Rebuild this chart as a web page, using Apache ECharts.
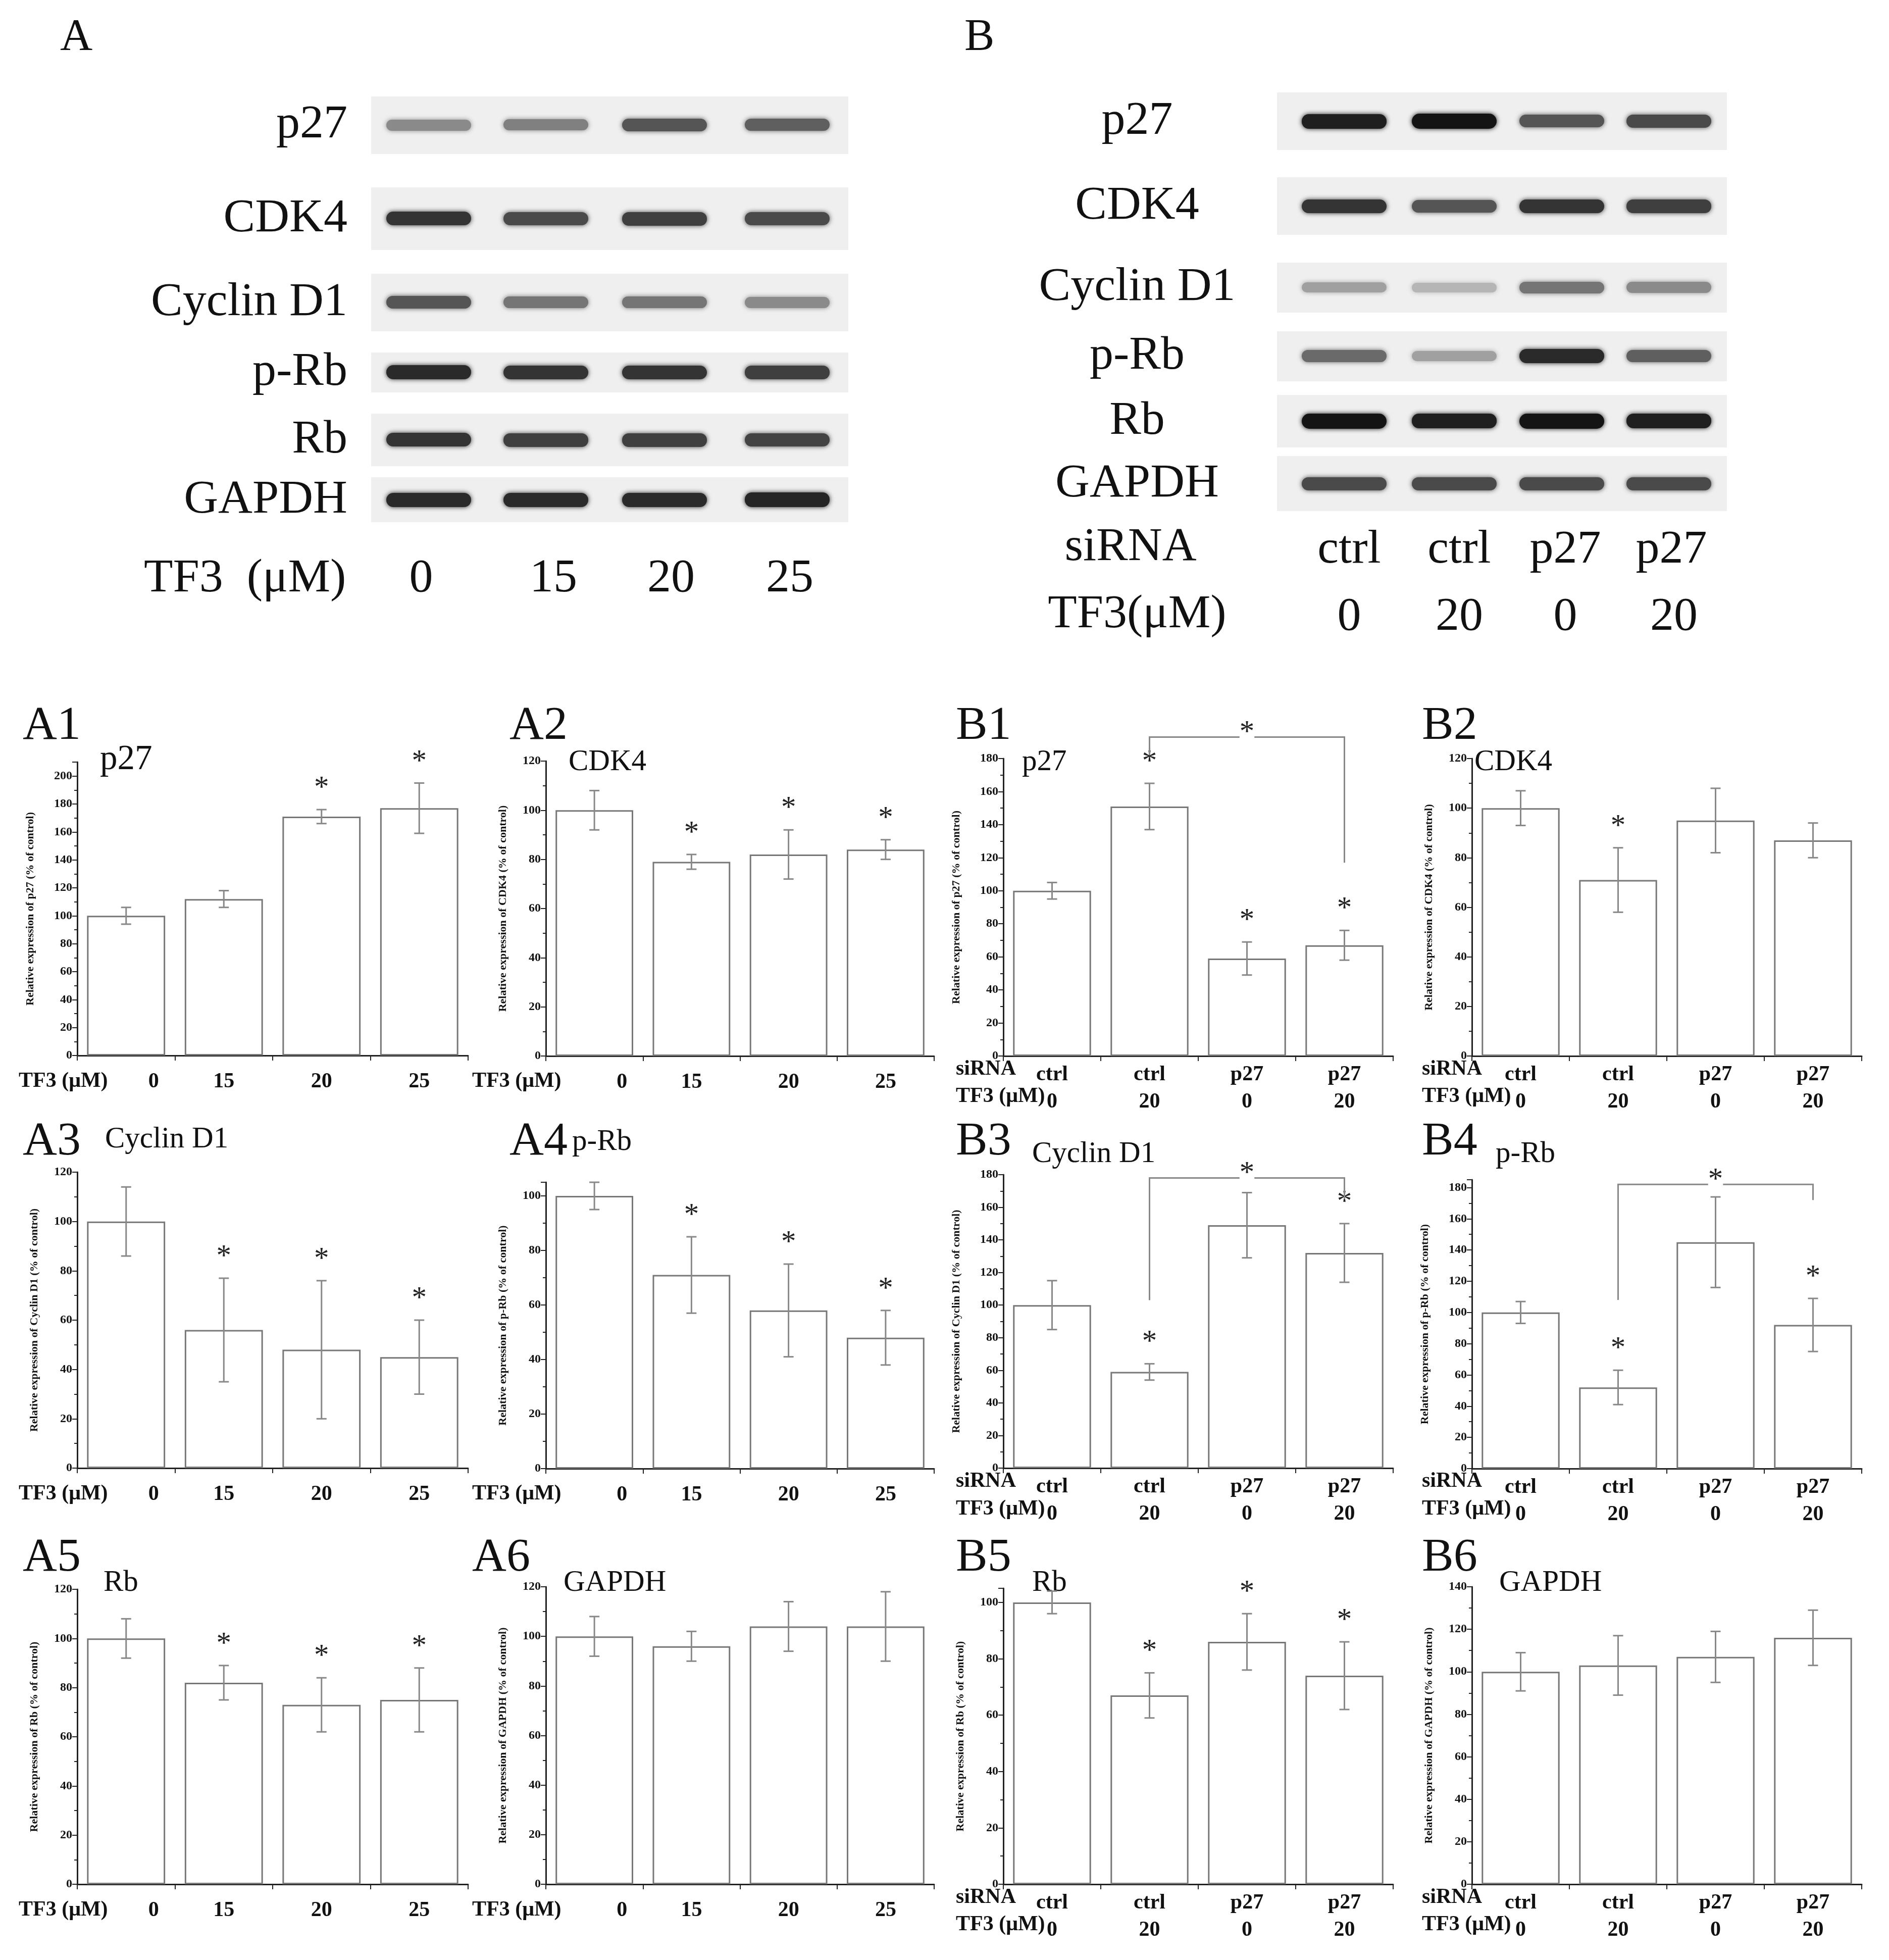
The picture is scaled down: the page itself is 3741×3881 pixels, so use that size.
<!DOCTYPE html>
<html lang="en">
<head>
<meta charset="UTF-8">
<title>TF3 western blots</title>
<script src="https://cdn.jsdelivr.net/npm/echarts@6/dist/echarts.min.js"></script>
<style>
  *{margin:0;padding:0}
  body{background:#fff}
  #main{width:3741px;height:3881px}
</style>
</head>
<body>
<div id="main"></div>
<script>
// ---- data ----
var catsA = ['0', '15', '20', '25']
var siRNA = ['ctrl', 'ctrl', 'p27', 'p27']
var tf3B = ['0', '20', '0', '20']

var A1_vals = [100, 112, 171, 177], A1_errs = [6, 6, 5, 18], A1_stars = [2, 3]
var A2_vals = [100, 79, 82, 84], A2_errs = [8, 3, 10, 4], A2_stars = [1, 2, 3]
var B1_vals = [100, 151, 59, 67], B1_errs = [5, 14, 10, 9], B1_stars = [1, 2, 3]
var B2_vals = [100, 71, 95, 87], B2_errs = [7, 13, 13, 7], B2_stars = [1]
var A3_vals = [100, 56, 48, 45], A3_errs = [14, 21, 28, 15], A3_stars = [1, 2, 3]
var A4_vals = [100, 71, 58, 48], A4_errs = [5, 14, 17, 10], A4_stars = [1, 2, 3]
var B3_vals = [100, 59, 149, 132], B3_errs = [15, 5, 20, 18], B3_stars = [1, 3]
var B4_vals = [100, 52, 145, 92], B4_errs = [7, 11, 29, 17], B4_stars = [1, 3]
var A5_vals = [100, 82, 73, 75], A5_errs = [8, 7, 11, 13], A5_stars = [1, 2, 3]
var A6_vals = [100, 96, 104, 104], A6_errs = [8, 6, 10, 14], A6_stars = []
var B5_vals = [100, 67, 86, 74], B5_errs = [4, 8, 10, 12], B5_stars = [1, 2, 3]
var B6_vals = [100, 103, 107, 116], B6_errs = [9, 14, 12, 13], B6_stars = []

// brackets: [fromIdx, toIdx, leftEndValue, topValue, rightEndValue]
var B1_bracket = [1, 3, 182, 193, 117]
var B3_bracket = [1, 3, 103, 178, 165]
var B4_bracket = [1, 3, 108, 182, 172]

// blot band intensities (0..1), rows top→bottom
var blotRowsA = ['p27', 'CDK4', 'Cyclin D1', 'p-Rb', 'Rb', 'GAPDH']
var blotA = [[0.45, 0.5, 0.7, 0.65], [0.85, 0.75, 0.8, 0.75], [0.7, 0.55, 0.55, 0.45],
             [0.9, 0.85, 0.85, 0.8], [0.85, 0.8, 0.8, 0.78], [0.9, 0.9, 0.9, 0.92]]
var blotRowsB = ['p27', 'CDK4', 'Cyclin D1', 'p-Rb', 'Rb', 'GAPDH']
var blotB = [[0.95, 1, 0.7, 0.75], [0.85, 0.7, 0.85, 0.8], [0.35, 0.25, 0.55, 0.45],
             [0.6, 0.35, 0.9, 0.65], [1, 0.95, 1, 0.95], [0.75, 0.75, 0.75, 0.75]]

// ---- layout (in display units, scaled by S) ----
var S = 3741 / 1512
function px(v) { return Math.round(v * S) }
var SERIF = 'Liberation Serif'

var colL = [62, 437, 803, 1178], colR = [375, 748, 1115, 1490]
var rowB = [845, 1175, 1508]

var charts = [
  {id: 'A1', gene: 'p27', vals: A1_vals, errs: A1_errs, stars: A1_stars, max: 210, top: 610, c: 0, r: 0, b: false},
  {id: 'A2', gene: 'CDK4', vals: A2_vals, errs: A2_errs, stars: A2_stars, max: 120, top: 609, c: 1, r: 0, b: false},
  {id: 'B1', gene: 'p27', vals: B1_vals, errs: B1_errs, stars: B1_stars, max: 180, top: 607, c: 2, r: 0, b: true, br: B1_bracket},
  {id: 'B2', gene: 'CDK4', vals: B2_vals, errs: B2_errs, stars: B2_stars, max: 120, top: 607, c: 3, r: 0, b: true},
  {id: 'A3', gene: 'Cyclin D1', vals: A3_vals, errs: A3_errs, stars: A3_stars, max: 120, top: 938, c: 0, r: 1, b: false},
  {id: 'A4', gene: 'p-Rb', vals: A4_vals, errs: A4_errs, stars: A4_stars, max: 105, top: 946, c: 1, r: 1, b: false},
  {id: 'B3', gene: 'Cyclin D1', vals: B3_vals, errs: B3_errs, stars: B3_stars, max: 180, top: 940, c: 2, r: 1, b: true, br: B3_bracket},
  {id: 'B4', gene: 'p-Rb', vals: B4_vals, errs: B4_errs, stars: B4_stars, max: 185, top: 944, c: 3, r: 1, b: true, br: B4_bracket},
  {id: 'A5', gene: 'Rb', vals: A5_vals, errs: A5_errs, stars: A5_stars, max: 120, top: 1272, c: 0, r: 2, b: false},
  {id: 'A6', gene: 'GAPDH', vals: A6_vals, errs: A6_errs, stars: A6_stars, max: 120, top: 1270, c: 1, r: 2, b: false},
  {id: 'B5', gene: 'Rb', vals: B5_vals, errs: B5_errs, stars: B5_stars, max: 105, top: 1271, c: 2, r: 2, b: true},
  {id: 'B6', gene: 'GAPDH', vals: B6_vals, errs: B6_errs, stars: B6_stars, max: 140, top: 1270, c: 3, r: 2, b: true}
]

var grid = [], xAxis = [], yAxis = [], series = [], graphic = []

charts.forEach(function (ch, i) {
  grid.push({left: px(colL[ch.c]), width: px(colR[ch.c] - colL[ch.c]),
             top: px(ch.top), height: px(rowB[ch.r] - ch.top)})
  var cats = ch.b ? siRNA.map(function (s, k) { return s + '\n' + tf3B[k] })
    : catsA.map(function (c, k) { return k === 0 ? {value: c, textStyle: {padding: [0, 0, 0, px(44)]}} : c })
  xAxis.push({type: 'category', gridIndex: i, data: cats,
    axisLine: {lineStyle: {color: '#222', width: px(1.2)}},
    axisTick: {show: true, alignWithLabel: false, length: px(4), lineStyle: {color: '#222', width: px(1)}},
    axisLabel: {color: '#111', fontFamily: SERIF, fontWeight: 'bold', fontSize: px(17),
      lineHeight: px(22), margin: px(ch.b ? 4 : 10)}})
  yAxis.push({type: 'value', gridIndex: i, min: 0, max: ch.max, interval: 20,
    name: 'Relative expression of ' + ch.gene + ' (% of control)', nameLocation: 'middle',
    nameGap: px(ch.max > 150 ? 33 : 30), nameRotate: 90,
    nameTextStyle: {fontFamily: SERIF, fontWeight: 'bold', fontSize: px(9), color: '#111'},
    splitLine: {show: false},
    axisLine: {show: true, lineStyle: {color: '#222', width: px(1.2)}},
    axisTick: {show: true, length: px(4), lineStyle: {color: '#222', width: px(1)}},
    minorTick: {show: true, splitNumber: 2, length: px(2.5), lineStyle: {color: '#222', width: px(1)}},
    axisLabel: {fontFamily: SERIF, fontWeight: 'bold', fontSize: px(9.5), color: '#111', margin: px(4),
      formatter: function (v) { return v % 20 === 0 ? v : '' }}})
  series.push({type: 'bar', xAxisIndex: i, yAxisIndex: i, data: ch.vals, barWidth: '80%',
    itemStyle: {color: '#fff', borderColor: '#777', borderWidth: px(1.2)}, silent: true})
  var errData = ch.vals.map(function (v, k) { return [k, v, ch.errs[k], ch.stars.indexOf(k) >= 0 ? 1 : 0] })
  series.push({type: 'custom', xAxisIndex: i, yAxisIndex: i, data: errData, clip: false, z: 5,
    renderItem: function (params, api) {
      var k = api.value(0), v = api.value(1), e = api.value(2)
      var lo = api.coord([k, v - e]), hi = api.coord([k, v + e])
      var cw = px(4)
      var st = {stroke: '#888', lineWidth: px(1.2)}
      var kids = [
        {type: 'line', shape: {x1: lo[0], y1: lo[1], x2: hi[0], y2: hi[1]}, style: st},
        {type: 'line', shape: {x1: lo[0] - cw, y1: lo[1], x2: lo[0] + cw, y2: lo[1]}, style: st},
        {type: 'line', shape: {x1: hi[0] - cw, y1: hi[1], x2: hi[0] + cw, y2: hi[1]}, style: st}]
      if (api.value(3)) {
        kids.push({type: 'text', x: hi[0], y: hi[1] - px(5),
          style: {text: '*', fontFamily: SERIF, fontSize: px(24), fill: '#222', align: 'center', verticalAlign: 'bottom'}})
      }
      return {type: 'group', children: kids}
    }})
  if (ch.br) {
    series.push({type: 'custom', xAxisIndex: i, yAxisIndex: i, data: [ch.br], clip: false, z: 6,
      renderItem: function (params, api) {
        var a = api.value(0), b = api.value(1)
        var p1 = api.coord([a, api.value(2)]), p2 = api.coord([a, api.value(3)])
        var p3 = api.coord([b, api.value(3)]), p4 = api.coord([b, api.value(4)])
        return {type: 'group', children: [
          {type: 'polyline', shape: {points: [p1, p2, p3, p4]}, style: {stroke: '#888', lineWidth: px(1.2), fill: null}},
          {type: 'text', x: (p2[0] + p3[0]) / 2, y: p2[1] + px(9),
           style: {text: '*', fontFamily: SERIF, fontSize: px(24), fill: '#222', align: 'center', verticalAlign: 'bottom', backgroundColor: '#fff'}}]}
      }})
  }
  // panel letter & gene title
  var lx = ch.id === 'A2' ? 408 : ch.id === 'A6' ? 378 : ch.id[0] === 'A' ? [18, 408][ch.c] : [765, 1138][ch.c - 2]
  var ly = [562, 895, 1228][ch.r]
  graphic.push({type: 'text', left: px(lx), top: px(ly),
    style: {text: ch.id, fontFamily: SERIF, fontSize: px(38), fill: '#111'}})
  var gx = {A1: 80, A2: 455, B1: 818, B2: 1180, A3: 84, A4: 458, B3: 826, B4: 1197, A5: 83, A6: 451, B5: 826, B6: 1200}[ch.id]
  var gy = {A1: 594, A2: 598, B1: 598, B2: 598, A3: 900, A4: 902, B3: 912, B4: 912, A5: 1255, A6: 1255, B5: 1255, B6: 1255}[ch.id]
  graphic.push({type: 'text', left: px(gx), top: px(gy),
    style: {text: ch.gene, fontFamily: SERIF, fontSize: px(ch.gene === 'p27' && ch.id === 'A1' ? 28 : 24), fill: '#111'}})
  // bottom-left axis captions
  var bx = ch.b ? [765, 1138][ch.c - 2] : [15, 378][ch.c]
  var by = rowB[ch.r]
  var capStyle = {fontFamily: SERIF, fontWeight: 'bold', fontSize: px(17), fill: '#111'}
  if (ch.b) {
    graphic.push({type: 'text', left: px(bx), top: px(by + 2), style: Object.assign({text: 'siRNA'}, capStyle)})
    graphic.push({type: 'text', left: px(bx), top: px(by + 24), style: Object.assign({text: 'TF3 (μM)'}, capStyle)})
  } else {
    graphic.push({type: 'text', left: px(bx), top: px(by + 12), style: Object.assign({text: 'TF3 (μM)'}, capStyle)})
  }
})

// ---- western blots ----
function blot(letterX, labels, rows, rowY, rowH, stripX, stripW, lanes, labelX, labelAlign, extra) {
  graphic.push({type: 'text', left: px(letterX), top: px(12),
    style: {text: letterX < 400 ? 'A' : 'B', fontFamily: SERIF, fontSize: px(36), fill: '#111'}})
  rows.forEach(function (row, r) {
    var cy = rowY[r], h = rowH[r]
    graphic.push({type: 'rect', shape: {x: px(stripX), y: px(cy - h / 2), width: px(stripW), height: px(h)},
      style: {fill: '#efefef'}, z: 1})
    row.forEach(function (inten, k) {
      var g = Math.round(235 - inten * 215)
      var c = 'rgb(' + g + ',' + g + ',' + g + ')'
      var bh = 6 + inten * 6
      graphic.push({type: 'rect', shape: {x: px(lanes[k] - 34), y: px(cy - bh / 2), width: px(68), height: px(bh), r: px(bh / 2)},
        style: {fill: c, shadowBlur: px(4), shadowColor: c}, z: 2})
    })
    graphic.push({type: 'text', x: px(labelX), y: px(cy),
      style: {text: labels[r], fontFamily: SERIF, fontSize: px(38), fill: '#111', align: labelAlign, verticalAlign: 'middle'}})
  })
  extra.forEach(function (t) {
    graphic.push({type: 'text', x: px(t[0]), y: px(t[1]),
      style: {text: t[2], fontFamily: SERIF, fontSize: px(38), fill: '#111', align: t[3] || 'center', verticalAlign: 'middle'}})
  })
}
var lanesA = [343, 437, 532, 630], lanesB = [1076, 1164, 1250, 1336]
blot(48, blotRowsA, blotA, [100, 175, 242, 298, 352, 400], [46, 50, 46, 32, 42, 36], 297, 382, lanesA, 278, 'right',
  [[115, 463, 'TF3  (μM)', 'left']].concat(catsA.map(function (c, k) { return [[337, 443, 537, 632][k], 463, c] })))
blot(772, blotRowsB, blotB, [97, 165, 230, 285, 337, 387], [46, 46, 40, 40, 42, 44], 1022, 360, lanesB, 910, 'center',
  [[905, 438, 'siRNA'], [910, 492, 'TF3(μM)']]
    .concat(siRNA.map(function (c, k) { return [[1080, 1168, 1253, 1338][k], 440, c] }))
    .concat(tf3B.map(function (c, k) { return [[1080, 1168, 1253, 1340][k], 494, c] })))

var mCharts = echarts.init(document.getElementById('main'))
mCharts.setOption({backgroundColor: '#fff', animation: false, grid: grid, xAxis: xAxis, yAxis: yAxis, series: series, graphic: graphic})
</script>
</body>
</html>
